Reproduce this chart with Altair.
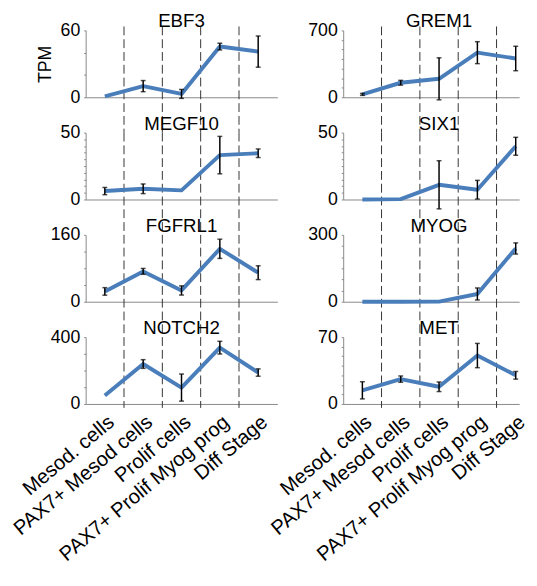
import json
import altair as alt
import pandas as pd

CATS = ["Mesod. cells", "PAX7+ Mesod cells", "Prolif cells",
        "PAX7+ Prolif Myog prog", "Diff Stage"]

GENES = ["EBF3", "GREM1", "MEGF10", "SIX1", "FGFRL1", "MYOG", "NOTCH2", "MET"]

EBF3_TPM = [0.8, 10, 3, 45.5, 41]
EBF3_ERR = [0, 5, 4, 3, 14]
GREM1_TPM = [30, 152, 193, 467, 406]
GREM1_ERR = [10, 25, 220, 115, 128]
MEGF10_TPM = [6.3, 8, 6.8, 33.2, 34.6]
MEGF10_ERR = [2.7, 3.6, 0, 14, 3.2]
SIX1_TPM = [0, 0.3, 11, 7.3, 39.8]
SIX1_ERR = [0, 0, 18, 7, 6.7]
FGFRL1_TPM = [24.7, 72.6, 27, 126.7, 69.5]
FGFRL1_ERR = [9, 7, 11, 23, 16.5]
MYOG_TPM = [0, 0, 0.5, 34.8, 239]
MYOG_ERR = [0, 0, 0, 27, 25]
NOTCH2_TPM = [51, 239, 98, 337, 188]
NOTCH2_ERR = [0, 26, 81, 38, 22]
MET_TPM = [14.3, 26, 18, 50.7, 30]
MET_ERR = [9, 3.3, 5, 12.7, 4]

Y_MAX = [60, 700, 50, 50, 160, 300, 400, 70]
Y_MINOR = [20, 100, 5, 5, 40, 50, 100, 10]
BOUNDS = [0.5, 1.5, 2.5, 3.5]
TITLE_POS = [2]

TPM = [EBF3_TPM, GREM1_TPM, MEGF10_TPM, SIX1_TPM, FGFRL1_TPM, MYOG_TPM, NOTCH2_TPM, MET_TPM]
ERR = [EBF3_ERR, GREM1_ERR, MEGF10_ERR, SIX1_ERR, FGFRL1_ERR, MYOG_ERR, NOTCH2_ERR, MET_ERR]

H = 68
GAP = 36
FONT = "Liberation Sans"


def panel(i):
    gene = GENES[i]
    row, col = divmod(i, 2)
    last = row == 3
    vals, errs = TPM[i], ERR[i]
    df = pd.DataFrame({
        "idx": list(range(5)),
        "cat": CATS,
        "tpm": vals,
        "err": errs,
        "lo": [v - e for v, e in zip(vals, errs)],
        "hi": [v + e for v, e in zip(vals, errs)],
    })
    bdf = pd.DataFrame({"idx": BOUNDS})
    tdf = pd.DataFrame({"idx": TITLE_POS, "gene": [gene]})
    W = 195 if col == 0 else 179
    xdom = [-0.5, 4.5] if col == 0 else [-0.5, 4.09]
    if last:
        xaxis = alt.Axis(values=[0, 1, 2, 3, 4],
                         labelExpr=f"{json.dumps(CATS)}[datum.value]",
                         labelAngle=-40, labelAlign="right", labelBaseline="top",
                         labelFontSize=20.5, labelPadding=8, ticks=False, labelLimit=0,
                         labelFlush=False, labelOverlap=False, title=None)
    else:
        xaxis = alt.Axis(labels=False, ticks=False, title=None)
    x = alt.X("idx:Q", scale=alt.Scale(domain=xdom, nice=False, zero=False), axis=xaxis)

    ymax = Y_MAX[i]
    step = Y_MINOR[i]
    yaxis = alt.Axis(values=list(range(0, ymax + 1, step)),
                     labelExpr=f"datum.value == 0 || datum.value == {ymax} ? datum.label : ''",
                     tickSize=2, labelPadding=4, labelOverlap=False,
                     title="TPM" if i == 0 else None,
                     titleFontSize=18, titleFontWeight="normal", titlePadding=6)
    yscale = alt.Scale(domain=[0, ymax], nice=False)

    def Y(field):
        return alt.Y(field, scale=yscale, axis=yaxis, title="TPM" if i == 0 else None)

    rules = alt.Chart(bdf).mark_rule(color="#333", strokeWidth=1, strokeDash=[9, 4]).encode(
        x=x,
        y=alt.value(-4 if row == 0 else 0),
        y2=alt.value(H + GAP if not last else H + 4),
    )
    line = alt.Chart(df).mark_line(color="#4a7ebb", strokeWidth=4, strokeJoin="round").encode(
        x=x, y=Y("tpm:Q"))
    err_rule = alt.Chart(df).transform_filter("datum.err > 0").mark_rule(
        color="black", strokeWidth=1.5).encode(x=x, y=Y("lo:Q"), y2="hi:Q")
    caps = alt.Chart(df).transform_filter("datum.err > 0").transform_fold(
        ["lo", "hi"], as_=["k", "v"]).mark_tick(
        orient="horizontal", size=5, thickness=1.5, color="black").encode(x=x, y=Y("v:Q"))
    title = alt.Chart(tdf).mark_text(
        font=FONT, fontSize=19, color="black", baseline="top", align="center"
    ).encode(x=x, y=alt.value(-18), text="gene:N")

    return alt.layer(rules, line, err_rule, caps, title).properties(width=W, height=H)


chart = alt.ConcatChart(
    concat=[panel(i) for i in range(8)], columns=2,
    spacing={"row": GAP, "column": 67}, bounds="flush",
).properties(
    padding={"left": 2, "top": 0, "right": 0, "bottom": -6}
).configure(font=FONT).configure_view(stroke=None).configure_axis(
    labelFont=FONT, titleFont=FONT, labelFontSize=18, labelColor="black",
    titleColor="black", domainColor="#888", tickColor="#888", grid=False,
)

chart.save("out.html", embed_options={"renderer": "svg", "actions": False})
